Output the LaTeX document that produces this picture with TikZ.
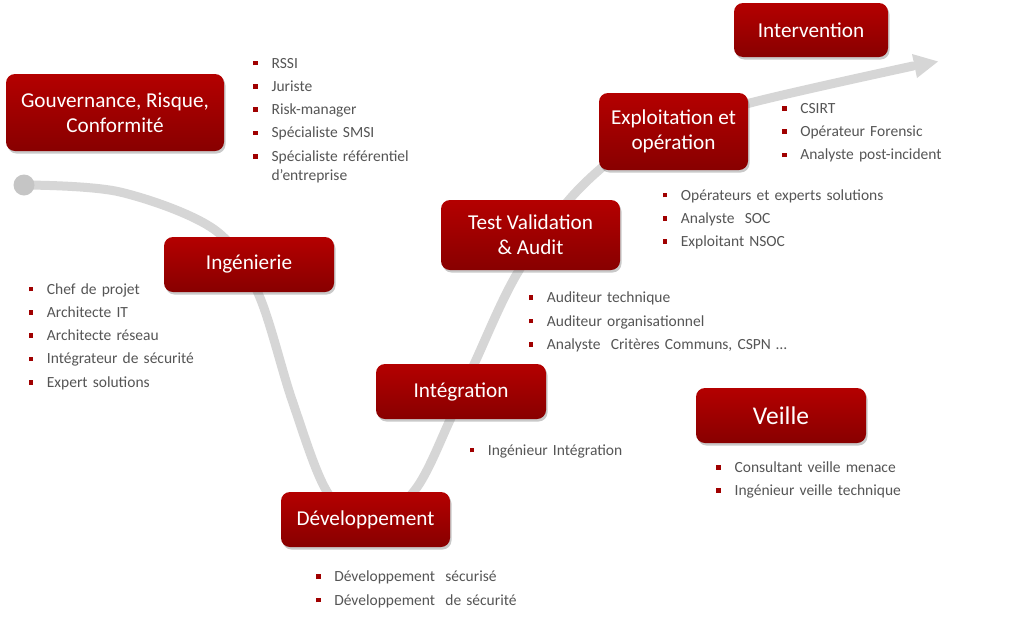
\documentclass[tikz,border=0pt]{standalone}
\usepackage{fontspec}
\setmainfont{Carlito}
\usetikzlibrary{shadows}
\definecolor{bred}{RGB}{160,0,0}
\definecolor{txt}{RGB}{85,85,85}
\definecolor{swoosh}{RGB}{214,214,214}
\definecolor{boxtop}{RGB}{180,0,0}
\definecolor{boxbot}{RGB}{136,0,0}
\newcommand{\bul}{\makebox[18.4pt][l]{\textcolor{bred}{\rule[2.7pt]{4.6pt}{4.6pt}}}}
\newcommand{\ind}{\hspace*{18.4pt}}
\begin{document}
\begin{tikzpicture}[x=1pt,y=-1pt,
  redbox/.style={rounded corners=9pt, top color=boxtop, bottom color=boxbot, draw=none, text=white, align=center, inner sep=0pt,
    font=\fontsize{21.2}{25}\selectfont,
    drop shadow={shadow xshift=1.5pt, shadow yshift=-2.5pt, opacity=0.35, fill=black!60}},
  blist/.style={anchor=base west, inner sep=0pt, text width=320pt, align=left, text=txt, font=\fontsize{15.5}{23.3}\selectfont}]
\useasboundingbox[fill=white] (0,0) rectangle (1025,619);

% swoosh
\coordinate (sstart) at (24,185);
\coordinate (stip) at (938,61.5);
\draw[swoosh, line width=9pt, line cap=round] plot[smooth, tension=0.55] coordinates {
  (24,185) (120,192) (215,230) (258,293) (292,400) (326,490) (366,528) (415,490) (450,420) (476,360) (518,272) (578,190) (650,135) (750,103) (913,66)};
\fill[swoosh!92!black] (sstart) circle (10.5);
\fill[swoosh] (912,54) -- (stip) -- (917,78) -- cycle;

% boxes
\node[redbox, minimum width=218pt, minimum height=77pt] (gov) at (115,112.5) {Gouvernance, Risque,\\Conformité};
\node[redbox, minimum width=154pt, minimum height=54pt] (interv) at (811,30) {Intervention};
\node[redbox, minimum width=149pt, minimum height=77pt] (exploit) at (673.5,131.5) {Exploitation et\\opération};
\node[redbox, minimum width=179pt, minimum height=70pt] (test) at (530.5,235) {Test Validation\\\& Audit};
\node[redbox, minimum width=170pt, minimum height=55pt] (ing) at (249,264.5) {Ingénierie};
\node[redbox, minimum width=170pt, minimum height=55pt] (integ) at (461,391.5) {Intégration};
\node[redbox, minimum width=170pt, minimum height=55pt, font=\fontsize{25.5}{30}\selectfont] (veille) at (781,415.5) {Veille};
\node[redbox, minimum width=169pt, minimum height=55pt] (dev) at (365.5,519.5) {Développement};

% lists
\node[blist] (lgov) at (253,68) {\bul RSSI\\ \bul Juriste\\ \bul Risk-manager\\ \bul Spécialiste SMSI\\ \bul Spécialiste référentiel\\[-4.3pt] \ind d’entreprise};
\node[blist] (linterv) at (781.7,113.3) {\bul CSIRT\\ \bul Opérateur Forensic\\ \bul Analyste post-incident};
\node[blist] (lexploit) at (662.3,200) {\bul Opérateurs et experts solutions\\ \bul Analyste\ \ SOC\\ \bul Exploitant NSOC};
\node[blist] (ling) at (28.3,294) {\bul Chef de projet\\ \bul Architecte IT\\ \bul Architecte réseau\\ \bul Intégrateur de sécurité\\ \bul Expert solutions};
\node[blist] (ltest) at (528.3,302.7) {\bul Auditeur technique\\ \bul Auditeur organisationnel\\ \bul Analyste\ \ Critères Communs, CSPN …};
\node[blist] (linteg) at (469.3,455) {\bul Ingénieur Intégration};
\node[blist] (lveille) at (716,472.3) {\bul Consultant veille menace\\ \bul Ingénieur veille technique};
\node[blist] (ldev) at (315.7,581.7) {\bul Développement\ \ sécurisé\\ \bul Développement\ \ de sécurité};
\end{tikzpicture}
\end{document}
